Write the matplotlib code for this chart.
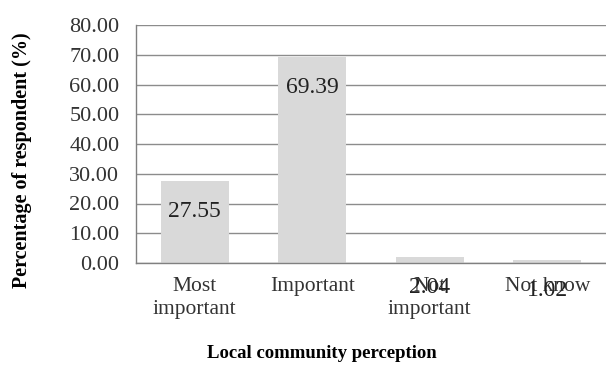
import matplotlib.pyplot as plt

categories = ["Most\nimportant", "Important", "Not\nimportant", "Not know"]
values = [27.55, 69.39, 2.04, 1.02]
value_labels = ["27.55", "69.39", "2.04", "1.02"]
y_ticks = [0, 10, 20, 30, 40, 50, 60, 70, 80]

plt.rcParams["font.family"] = ["Liberation Serif", "DejaVu Serif"]

fig = plt.figure(figsize=(6.06, 3.68), dpi=100)
ax = fig.add_axes([136 / 606, 1 - 263 / 368, (606 - 136) / 606, (263 - 25) / 368])

x = list(range(len(categories)))
ax.bar(x, values, width=0.58, color="#d9d9d9", zorder=2)
for xi, v, lab in zip(x, values, value_labels):
    ax.annotate(lab, (xi, v), xytext=(0, -22), textcoords="offset points",
                ha="center", va="center", fontsize=17, color="#222222", zorder=3)

ax.set_xlim(-0.5, 3.5)
ax.set_ylim(0, 80)
ax.set_yticks(y_ticks)
ax.set_yticklabels([f"{t:.2f}" for t in y_ticks], fontsize=16, color="#333333")
ax.set_xticks(x)
ax.set_xticklabels(categories, fontsize=15.5, color="#333333", linespacing=1.3)
ax.tick_params(axis="y", length=0, pad=12)
ax.tick_params(axis="x", length=0, pad=10)
ax.grid(axis="y", color="#8c8c8c", linewidth=1, zorder=1)
for s in ["top", "right"]:
    ax.spines[s].set_visible(False)
for s in ["left", "bottom"]:
    ax.spines[s].set_color("#808080")
    ax.spines[s].set_linewidth(1)

ax.set_ylabel("Percentage of respondent (%)", fontsize=14.5, fontweight="bold", va="center")
ax.yaxis.set_label_coords(-(136 - 22) / 470, 0.5 - 16 / 238)
ax.set_xlabel("Local community perception", fontsize=13.5, fontweight="bold", va="center")
ax.xaxis.set_label_coords((322 - 136) / 470, -(353 - 263) / 238)

fig.savefig("out.png", dpi=100)
